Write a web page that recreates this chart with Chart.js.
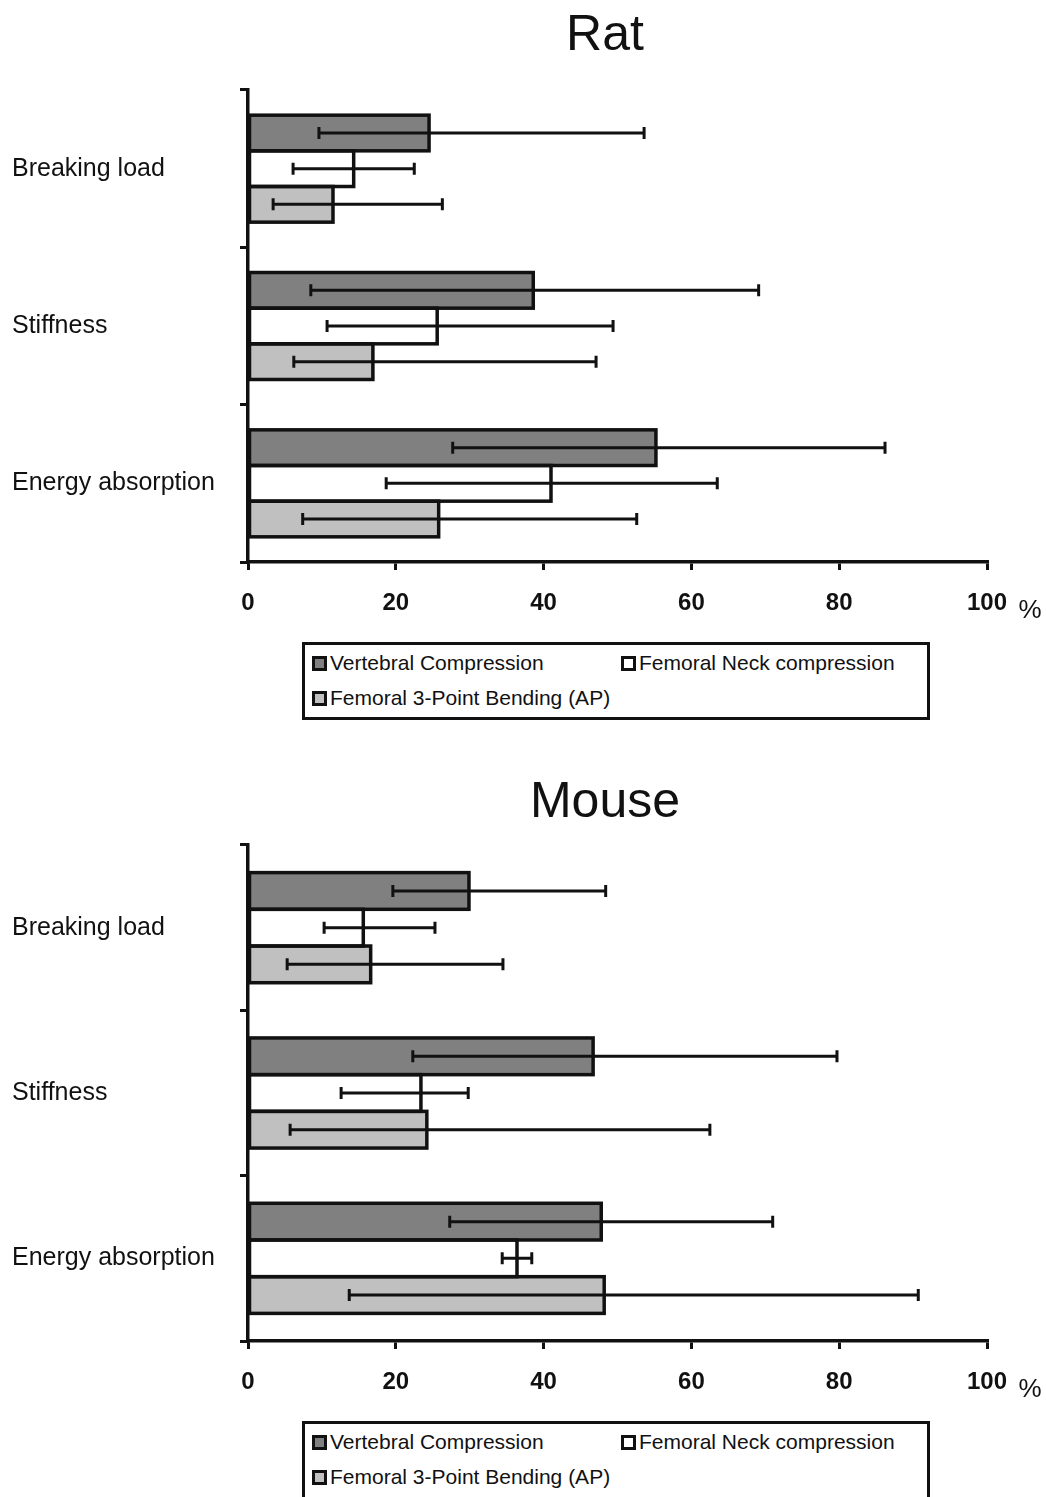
<!DOCTYPE html>
<html>
<head>
<meta charset="utf-8">
<script src="https://cdn.jsdelivr.net/npm/chart.js@4.4.0/dist/chart.umd.min.js"></script>
<style>
  body { margin: 0; background: #fff; width: 1046px; height: 1497px; overflow: hidden; position: relative;
         font-family: "Liberation Sans", Arial, sans-serif; color: #111; }
  .title { position: absolute; left: 405px; width: 400px; text-align: center; font-size: 50px; line-height: 50px; }
  canvas { position: absolute; left: 0; }
  .legend { position: absolute; left: 302px; width: 622px; height: 72px; border: 3px solid #111; }
  .legend .item { position: absolute; font-size: 21px; line-height: 24px; white-space: nowrap; }
  .legend .swatch { display: inline-block; width: 9px; height: 9px; border: 3px solid #111; margin-right: 3px; vertical-align: -1px; }
</style>
</head>
<body>
<div class="title" style="top:8px">Rat</div>
<canvas id="ratChart" width="1046" height="570" style="top:60px"></canvas>
<div class="legend" id="ratLegend" style="top:642px"></div>

<div class="title" style="top:775px">Mouse</div>
<canvas id="mouseChart" width="1046" height="589" style="top:820px"></canvas>
<div class="legend" id="mouseLegend" style="top:1421px; height:90px"></div>

<script>
const categories = ['Breaking load', 'Stiffness', 'Energy absorption'];
const seriesLabels = ['Vertebral Compression', 'Femoral Neck compression', 'Femoral 3-Point Bending (AP)'];
const seriesColors = ['#808080', '#ffffff', '#c0c0c0'];
const xTicks = [0, 20, 40, 60, 80, 100];

// Rat: mean change (%) with lower / upper error limits
const ratVertebral = [24.5, 38.6, 55.2];
const ratVertebralLow = [9.6, 8.5, 27.7];
const ratVertebralHigh = [53.6, 69.1, 86.2];
const ratNeck = [14.3, 25.6, 41.0];
const ratNeckLow = [6.1, 10.7, 18.7];
const ratNeckHigh = [22.5, 49.4, 63.5];
const ratBending = [11.5, 16.9, 25.8];
const ratBendingLow = [3.4, 6.2, 7.4];
const ratBendingHigh = [26.3, 47.1, 52.6];

// Mouse
const mouseVertebral = [29.9, 46.7, 47.8];
const mouseVertebralLow = [19.6, 22.3, 27.3];
const mouseVertebralHigh = [48.4, 79.7, 71.0];
const mouseNeck = [15.6, 23.4, 36.4];
const mouseNeckLow = [10.3, 12.6, 34.4];
const mouseNeckHigh = [25.3, 29.8, 38.4];
const mouseBending = [16.6, 24.2, 48.2];
const mouseBendingLow = [5.3, 5.7, 13.7];
const mouseBendingHigh = [34.5, 62.5, 90.7];

const FONT = '"Liberation Sans", Arial, sans-serif';

// outlines drawn centred on the bar edges so neighbouring bars share one line,
// then the error bars on top
const outlineAndErrors = {
    id: 'outlineAndErrors',
    afterDatasetsDraw(chart) {
        const ctx = chart.ctx;
        const xs = chart.scales.x;
        ctx.save();
        ctx.strokeStyle = '#111';
        ctx.lineWidth = 3.5;
        chart.data.datasets.forEach((ds, i) => {
            chart.getDatasetMeta(i).data.forEach(bar => {
                const { x, y, base, height } = bar.getProps(['x', 'y', 'base', 'height'], true);
                ctx.strokeRect(base, y - height / 2, x - base, height);
            });
        });
        ctx.lineWidth = 3;
        chart.data.datasets.forEach((ds, i) => {
            chart.getDatasetMeta(i).data.forEach((bar, j) => {
                const lo = xs.getPixelForValue(ds.errLow[j]);
                const hi = xs.getPixelForValue(ds.errHigh[j]);
                const y = bar.y;
                ctx.beginPath();
                ctx.moveTo(lo, y); ctx.lineTo(hi, y);
                ctx.moveTo(lo, y - 6); ctx.lineTo(lo, y + 6);
                ctx.moveTo(hi, y - 6); ctx.lineTo(hi, y + 6);
                ctx.stroke();
            });
        });
        ctx.restore();
    }
};

const percentSign = {
    id: 'percentSign',
    afterDraw(chart) {
        const ctx = chart.ctx;
        const xs = chart.scales.x;
        ctx.save();
        ctx.fillStyle = '#111';
        ctx.font = '26px ' + FONT;
        ctx.textAlign = 'center';
        ctx.textBaseline = 'middle';
        ctx.fillText('%', xs.right + 43, chart.chartArea.bottom + 49);
        ctx.restore();
    }
};

function makeChart(id, values, lows, highs, topPad, catPct) {
    return new Chart(document.getElementById(id), {
        type: 'bar',
        data: {
            labels: categories,
            datasets: values.map((v, i) => ({
                label: seriesLabels[i],
                data: v,
                errLow: lows[i],
                errHigh: highs[i],
                backgroundColor: seriesColors[i],
                borderWidth: 0,
                barPercentage: 1.0,
                categoryPercentage: catPct
            }))
        },
        options: {
            indexAxis: 'y',
            responsive: false,
            animation: false,
            devicePixelRatio: 1,
            layout: { padding: { top: topPad, left: 12, right: 59, bottom: 0 } },
            plugins: { legend: { display: false }, tooltip: { enabled: false } },
            scales: {
                x: {
                    type: 'linear',
                    min: 0,
                    max: 100,
                    afterBuildTicks: s => { s.ticks = xTicks.map(v => ({ value: v })); },
                    afterFit: s => { s.height = 68; },
                    ticks: { color: '#111', padding: 19, font: { family: FONT, size: 24, weight: 'bold' } },
                    grid: { drawOnChartArea: false, tickLength: 8, color: '#111', lineWidth: 3 },
                    border: { color: '#111', width: 3.5 }
                },
                y: {
                    afterFit: s => { s.width = 236; },
                    ticks: { crossAlign: 'far', color: '#111', font: { family: FONT, size: 25 } },
                    grid: { drawOnChartArea: false, tickLength: 8, color: '#111', lineWidth: 3 },
                    border: { color: '#111', width: 3.5 }
                }
            }
        },
        plugins: [outlineAndErrors, percentSign]
    });
}

function buildLegend(id) {
    const box = document.getElementById(id);
    const spots = [[7, 6], [316, 6], [7, 41]];
    seriesLabels.forEach((label, i) => {
        const item = document.createElement('div');
        item.className = 'item';
        item.style.left = spots[i][0] + 'px';
        item.style.top = spots[i][1] + 'px';
        item.innerHTML = `<span class="swatch" style="background:${seriesColors[i]}"></span>${label}`;
        box.appendChild(item);
    });
}

makeChart('ratChart',
    [ratVertebral, ratNeck, ratBending],
    [ratVertebralLow, ratNeckLow, ratBendingLow],
    [ratVertebralHigh, ratNeckHigh, ratBendingHigh],
    30, 0.68);
makeChart('mouseChart',
    [mouseVertebral, mouseNeck, mouseBending],
    [mouseVertebralLow, mouseNeckLow, mouseBendingLow],
    [mouseVertebralHigh, mouseNeckHigh, mouseBendingHigh],
    25, 0.666);
buildLegend('ratLegend');
buildLegend('mouseLegend');
</script>
</body>
</html>
